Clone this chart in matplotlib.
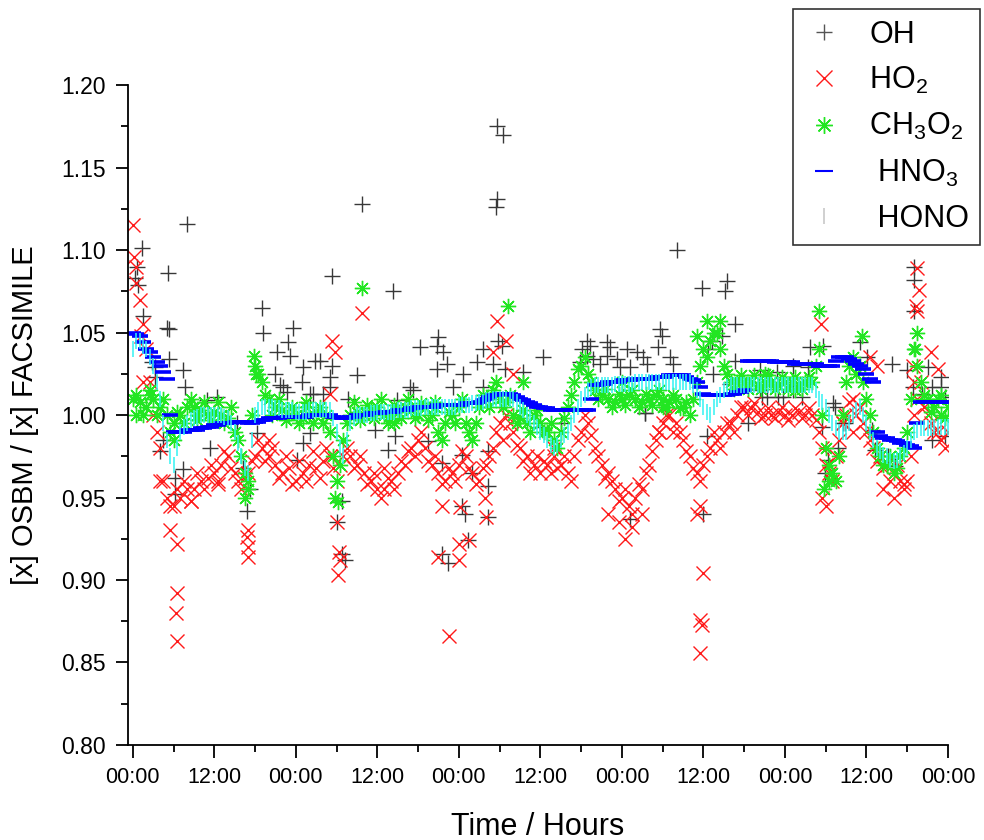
import numpy as np
import matplotlib
matplotlib.use("Agg")
import matplotlib.pyplot as plt
from matplotlib.lines import Line2D
from matplotlib.ticker import MultipleLocator, FixedLocator

# model time (hours from start): readings on the hour and on the half hour
hours = np.arange(0, 121)
half_hours = np.arange(0.5, 120, 1.0)

# HO2 ratio, on the hour
ho2 = [1.115, 1.07, 1.04, 1.00, 0.98, 0.95, 0.945, 0.95, 0.955, 0.955,
       0.96, 0.962, 0.965, 0.97, 0.975, 0.965, 0.955, 0.965, 0.975, 0.98,
       0.975, 0.97, 0.965, 0.968, 0.96, 0.965, 0.97, 0.968, 0.972, 0.975,
       0.96, 0.975, 0.975, 0.97, 0.965, 0.96, 0.955, 0.955, 0.96, 0.965,
       0.97, 0.98, 0.985, 0.98, 0.97, 0.965, 0.96, 0.965, 0.97, 0.975,
       0.965, 0.96, 0.97, 0.98, 0.995, 1.0, 0.99, 0.98, 0.975, 0.97,
       0.965, 0.97, 0.975, 0.97, 0.965, 0.975, 0.99, 0.995, 0.98, 0.97,
       0.965, 0.955, 0.95, 0.945, 0.95, 0.955, 0.97, 0.985, 0.995, 1.0,
       0.995, 0.985, 0.975, 0.965, 0.97, 0.98, 0.985, 0.99, 0.995, 1.0,
       1.005, 1.004, 1.002, 1.0, 1.0, 1.002, 1.0, 1.0, 1.002, 1.0,
       1.0, 0.99, 0.97, 0.96, 0.985, 1.0, 1.01, 1.005, 0.99, 0.98,
       0.975, 0.97, 0.965, 0.96, 0.96, 1.0, 1.02, 1.0, 0.99, 0.985,
       0.99]
# HO2 ratio, on the half hour
ho2_half = [1.09, 1.055, 1.02, 0.99, 0.96, 0.945, 0.955, 0.96, 0.948, 0.965,
            0.955, 0.97, 0.96, 0.978, 0.968, 0.96, 0.962, 0.972, 0.985, 0.972,
            0.98, 0.962, 0.975, 0.958, 0.972, 0.96, 0.978, 0.962, 0.98, 0.968,
            0.97, 0.98, 0.968, 0.975, 0.958, 0.965, 0.95, 0.962, 0.955, 0.972,
            0.978, 0.975, 0.99, 0.972, 0.975, 0.958, 0.968, 0.96, 0.978, 0.968,
            0.958, 0.968, 0.975, 0.99, 0.985, 0.995, 0.982, 0.972, 0.965, 0.975,
            0.972, 0.965, 0.968, 0.975, 0.96, 0.985, 1.0, 0.988, 0.975, 0.962,
            0.96, 0.948, 0.955, 0.94, 0.958, 0.965, 0.978, 0.99, 1.0, 0.99,
            0.99, 0.978, 0.968, 0.96, 0.975, 0.99, 0.98, 0.995, 0.99, 1.005,
            1.0, 1.007, 0.998, 1.004, 0.998, 1.005, 0.997, 1.004, 0.998, 1.004,
            0.997, 0.98, 0.965, 0.975, 0.995, 1.008, 1.0, 0.995, 0.985, 0.972,
            0.968, 0.96, 0.97, 0.955, 0.975, 1.01, 1.005, 0.995, 0.99, 0.98]
ho2_extra_t = [0.2, 0.5, 1.2, 1.5, 4.0, 5.5, 6.5, 6.5, 6.3, 6.5,
               16.8, 17.0, 17.0, 16.9, 29.3, 29.7, 29.0, 30.0, 30.4, 30.5,
               30.2, 33.7, 45.5, 48.1, 51.9, 52.0, 45.0, 48.0, 48.0, 49.5,
               46.6, 53.6, 55.0, 53.0, 56.0, 70.0, 71.5, 73.5, 75.0, 72.5,
               83.0, 83.5, 84.0, 83.5, 83.8, 83.5, 101.5, 102.0, 101.3, 115.5,
               115.8, 115.3, 115.5, 117.5, 118.5, 114.8, 115.0, 110.5, 112.0, 113.5,
               108.5, 109.5, 8.5, 12.5, 20.0, 37.0, 62.0, 77.5, 106.0, 104.5]
ho2_extra_v = [1.096, 1.08, 1.048, 1.02, 0.96, 0.93, 0.922, 0.892, 0.88, 0.863,
               0.926, 0.92, 0.914, 0.93, 1.045, 1.038, 1.013, 0.935, 0.917, 0.912,
               0.903, 1.062, 0.945, 0.944, 0.95, 0.938, 0.914, 0.912, 0.922, 0.924,
               0.866, 1.057, 1.045, 1.038, 1.025, 0.94, 0.935, 0.932, 0.94, 0.925,
               0.94, 0.945, 0.904, 0.876, 0.873, 0.856, 0.95, 0.945, 1.055, 1.089,
               1.076, 1.066, 1.063, 1.038, 1.028, 1.03, 1.02, 0.955, 0.95, 0.958,
               1.035, 1.03, 0.948, 0.958, 0.985, 0.968, 0.98, 0.99, 0.99, 0.995]

# CH3O2 ratio
ch3o2 = [1.01, 1.008, 1.005, 1.01, 1.005, 1.0, 0.995, 1.0, 1.005, 1.005,
         1.003, 1.0, 1.002, 1.0, 0.998, 0.99, 0.975, 0.96, 1.03, 1.02,
         1.01, 1.005, 1.003, 1.0, 1.0, 0.998, 1.0, 1.002, 0.995, 0.99,
         0.96, 0.985, 1.0, 1.002, 1.0, 1.003, 1.005, 1.0, 1.0, 1.002,
         1.005, 1.003, 1.0, 1.005, 1.0, 0.99, 0.995, 1.0, 1.005, 0.995,
         0.985, 1.005, 1.01, 1.015, 1.01, 1.008, 1.0, 0.998, 0.995, 1.0,
         0.995, 0.99, 0.985, 0.99, 1.005, 1.02, 1.03, 1.025, 1.015, 1.012,
         1.01, 1.008, 1.01, 1.012, 1.01, 1.008, 1.01, 1.012, 1.01, 1.008,
         1.01, 1.005, 1.0, 1.02, 1.04, 1.045, 1.05, 1.03, 1.02, 1.02,
         1.02, 1.02, 1.018, 1.02, 1.02, 1.018, 1.02, 1.02, 1.018, 1.02,
         1.02, 1.04, 0.98, 0.965, 0.975, 1.02, 1.035, 1.03, 1.01, 0.99,
         0.975, 0.97, 0.965, 0.975, 0.99, 1.04, 1.02, 1.01, 1.005, 1.0,
         1.005]
ch3o2_half = [1.012, 1.0, 1.012, 1.0, 1.01, 0.99, 1.002, 0.995, 1.01, 1.0,
              1.008, 0.997, 1.008, 0.995, 1.005, 0.985, 0.965, 1.0, 1.025, 1.012,
              1.0, 1.01, 0.997, 1.005, 0.995, 1.005, 0.995, 1.005, 1.0, 0.975,
              0.97, 0.995, 1.008, 0.997, 1.006, 0.998, 1.01, 0.995, 1.006, 0.998,
              1.01, 0.998, 1.007, 0.997, 1.005, 0.985, 1.002, 0.995, 1.01, 0.99,
              0.995, 1.012, 1.005, 1.02, 1.005, 1.012, 0.995, 1.003, 0.99, 1.003,
              0.99, 0.995, 0.98, 0.998, 1.012, 1.028, 1.035, 1.02, 1.01, 1.016,
              1.005, 1.013, 1.006, 1.015, 1.005, 1.013, 1.006, 1.015, 1.005, 1.012,
              1.004, 1.008, 1.01, 1.03, 1.035, 1.05, 1.04, 1.025, 1.016, 1.024,
              1.016, 1.024, 1.016, 1.024, 1.016, 1.023, 1.016, 1.023, 1.016, 1.023,
              1.03, 1.0, 0.97, 0.96, 1.0, 1.03, 1.025, 1.02, 1.0, 0.98,
              0.97, 0.975, 0.968, 0.98, 1.01, 1.03, 1.012, 1.002, 1.01, 0.998]
ch3o2_extra_t = [33.7, 55.3, 101.0, 107.3, 115.5, 115.2, 84.5, 86.5, 83.0, 17.8,
                 18.2, 29.8, 30.2, 16.5, 16.9, 101.8, 102.5, 6.0, 0.5, 2.5,
                 9.5, 25.5, 38.5, 44.5, 57.5, 72.0, 78.0, 93.0, 97.5, 119.0]
ch3o2_extra_v = [1.077, 1.066, 1.063, 1.048, 1.05, 1.04, 1.057, 1.057, 1.048, 1.036,
                 1.025, 0.95, 0.947, 0.95, 0.955, 0.955, 0.96, 0.985, 1.0, 1.015,
                 0.997, 1.008, 0.995, 1.008, 1.02, 1.02, 1.005, 1.025, 1.015, 1.012]

# HNO3 ratio
hno3 = [1.05, 1.048, 1.04, 1.035, 1.03, 1.022, 0.99, 0.99, 0.991, 0.991,
        0.992, 0.993, 0.994, 0.995, 0.995, 0.996, 0.996, 0.995, 0.996, 0.997,
        0.998, 0.998, 0.999, 0.999, 0.999, 0.999, 1.0, 1.0, 1.0, 1.0,
        0.999, 0.998, 0.999, 1.0, 1.0, 1.001, 1.001, 1.002, 1.002, 1.003,
        1.003, 1.004, 1.005, 1.005, 1.005, 1.006, 1.006, 1.006, 1.006, 1.007,
        1.007, 1.008, 1.01, 1.012, 1.013, 1.013, 1.012, 1.01, 1.008, 1.006,
        1.005, 1.004, 1.003, 1.003, 1.003, 1.003, 1.003, 1.003, 1.018, 1.019,
        1.02, 1.02, 1.021, 1.021, 1.022, 1.022, 1.022, 1.023, 1.023, 1.024,
        1.024, 1.024, 1.022, 1.02, 1.013, 1.012, 1.012, 1.012, 1.013, 1.014,
        1.015, 1.033, 1.033, 1.033, 1.033, 1.032, 1.032, 1.032, 1.031, 1.031,
        1.031, 1.03, 1.03, 1.03, 1.035, 1.035, 1.033, 1.03, 1.025, 1.02,
        0.987, 0.986, 0.985, 0.983, 0.982, 0.98, 1.008, 1.008, 1.008, 1.008,
        1.008]
hno3_half = [1.049, 1.044, 1.038, 1.032, 1.026, 1.0, 0.99, 0.99, 0.991, 0.991,
             0.992, 0.993, 0.994, 0.995, 0.995, 0.996, 0.996, 0.995, 0.996, 0.997,
             0.998, 0.998, 0.999, 0.999, 0.999, 0.999, 1.0, 1.0, 1.0, 0.999,
             0.998, 0.998, 0.999, 1.0, 1.0, 1.001, 1.001, 1.002, 1.002, 1.003,
             1.003, 1.004, 1.005, 1.005, 1.005, 1.006, 1.006, 1.006, 1.006, 1.007,
             1.007, 1.009, 1.011, 1.012, 1.013, 1.013, 1.011, 1.009, 1.007, 1.005,
             1.004, 1.003, 1.003, 1.003, 1.003, 1.003, 1.003, 1.01, 1.018, 1.019,
             1.02, 1.02, 1.021, 1.021, 1.022, 1.022, 1.022, 1.023, 1.023, 1.024,
             1.024, 1.023, 1.021, 1.017, 1.012, 1.012, 1.012, 1.012, 1.013, 1.014,
             1.033, 1.033, 1.033, 1.033, 1.032, 1.032, 1.032, 1.031, 1.031, 1.031,
             1.031, 1.03, 1.03, 1.033, 1.035, 1.034, 1.031, 1.028, 1.022, 0.99,
             0.986, 0.985, 0.984, 0.983, 0.981, 0.995, 1.008, 1.008, 1.008, 1.008]

# HONO ratio
hono = [1.04, 1.045, 1.04, 1.03, 1.01, 0.985, 0.97, 0.99, 0.995, 0.998,
        1.0, 1.0, 1.0, 1.0, 0.998, 0.99, 0.975, 0.965, 1.0, 1.005,
        1.005, 1.004, 1.003, 1.003, 1.002, 1.002, 1.003, 1.003, 1.003, 1.003,
        0.99, 0.975, 0.995, 1.0, 1.0, 1.001, 1.002, 1.002, 1.002, 1.003,
        1.003, 1.004, 1.004, 1.005, 1.005, 1.005, 1.005, 1.005, 1.006, 1.006,
        1.007, 1.008, 1.009, 1.01, 1.01, 1.01, 1.01, 1.005, 1.0, 0.995,
        0.99, 0.985, 0.98, 0.985, 0.99, 1.0, 1.01, 1.015, 1.018, 1.018,
        1.018, 1.019, 1.019, 1.019, 1.02, 1.02, 1.02, 1.02, 1.02, 1.02,
        1.02, 1.02, 1.02, 1.015, 1.005, 1.0, 1.01, 1.015, 1.018, 1.018,
        1.018, 1.018, 1.018, 1.018, 1.018, 1.018, 1.018, 1.018, 1.018, 1.018,
        1.018, 1.01, 1.005, 0.995, 0.99, 0.99, 1.0, 1.005, 0.995, 0.985,
        0.978, 0.975, 0.972, 0.975, 0.98, 0.99, 0.992, 0.992, 0.993, 0.993,
        0.993]
hono_half = [1.045, 1.042, 1.035, 1.02, 0.995, 0.975, 0.98, 0.993, 0.997, 0.999,
             1.0, 1.0, 1.0, 0.999, 0.995, 0.983, 0.968, 0.985, 1.003, 1.005,
             1.005, 1.004, 1.003, 1.003, 1.002, 1.002, 1.003, 1.003, 1.003, 0.998,
             0.98, 0.985, 0.998, 1.0, 1.0, 1.001, 1.002, 1.002, 1.002, 1.003,
             1.003, 1.004, 1.004, 1.005, 1.005, 1.005, 1.005, 1.005, 1.006, 1.006,
             1.007, 1.008, 1.009, 1.01, 1.01, 1.01, 1.008, 1.003, 0.998, 0.993,
             0.988, 0.982, 0.982, 0.988, 0.995, 1.005, 1.012, 1.017, 1.018, 1.018,
             1.018, 1.019, 1.019, 1.019, 1.02, 1.02, 1.02, 1.02, 1.02, 1.02,
             1.02, 1.02, 1.018, 1.01, 1.002, 1.005, 1.012, 1.017, 1.018, 1.018,
             1.018, 1.018, 1.018, 1.018, 1.018, 1.018, 1.018, 1.018, 1.018, 1.018,
             1.015, 1.008, 1.0, 0.992, 0.99, 0.995, 1.003, 1.0, 0.99, 0.98,
             0.976, 0.973, 0.973, 0.977, 0.985, 0.991, 0.992, 0.992, 0.993, 0.993]

# OH ratio, scattered points (hour, value)
oh_t = [0.3, 0.7, 1.3, 0.6, 1.5, 2.8, 3.2, 3.2, 5.2, 5.0,
        5.4, 5.4, 7.4, 8.0, 7.7, 4.4, 4.0, 11.3, 6.2, 6.2,
        7.4, 16.8, 16.2, 17.2, 15.3, 18.3, 10.9, 12.4, 19.0, 19.1,
        23.6, 22.8, 21.2, 23.1, 26.8, 25.0, 20.9, 22.1, 26.1, 28.0,
        22.7, 21.6, 24.9, 26.5, 26.1, 25.0, 24.2, 29.3, 38.3, 33.7,
        27.5, 29.3, 29.0, 33.0, 29.0, 31.7, 42.3, 44.9, 44.8, 45.7,
        46.2, 44.8, 48.6, 50.7, 51.5, 53.8, 53.0, 54.8, 54.3, 47.1,
        51.5, 41.2, 38.9, 40.8, 35.6, 38.6, 43.4, 37.6, 45.5, 48.5,
        52.3, 49.9, 52.3, 48.5, 48.9, 52.3, 46.4, 45.5, 49.3, 30.8,
        30.8, 30.0, 31.2, 53.6, 54.5, 53.6, 53.5, 60.4, 57.4, 66.9,
        66.1, 67.3, 69.8, 70.3, 72.8, 66.9, 65.8, 67.7, 69.8, 71.3,
        74.2, 75.1, 75.7, 77.6, 77.9, 77.3, 79.1, 79.5, 68.8, 71.7,
        73.2, 80.1, 83.8, 75.4, 87.5, 87.2, 88.7, 85.3, 86.7, 84.7,
        85.4, 88.7, 87.9, 92.3, 94.8, 97.2, 99.4, 97.2, 93.4, 95.7,
        92.3, 99.7, 101.6, 103.1, 104.6, 107.1, 108.1, 111.8, 115.0, 115.0,
        115.0, 117.1, 118.9, 118.9, 119.6, 114.0, 103.4, 101.5, 104.9, 103.8,
        102.4, 101.9, 108.8, 109.3, 111.2, 112.2, 114.8, 116.2, 117.7, 119.6,
        117.7, 98.5, 95.0, 92.6, 90.6, 73.2, 83.9, 75.4, 84.5, 63.0,
        60.0]
oh_v = [1.083, 1.079, 1.101, 1.09, 1.06, 1.032, 1.029, 1.023, 1.086, 1.053,
        1.052, 1.034, 1.027, 1.116, 1.017, 0.985, 0.978, 0.98, 0.962, 0.952,
        0.967, 0.942, 0.968, 0.955, 0.995, 0.989, 1.009, 1.011, 1.065, 1.05,
        1.053, 1.044, 1.038, 1.036, 1.033, 1.029, 1.025, 1.017, 1.013, 1.013,
        1.014, 1.018, 1.02, 1.013, 0.989, 0.983, 0.973, 1.084, 1.075, 1.128,
        1.033, 1.03, 1.023, 1.024, 1.017, 1.01, 1.041, 1.047, 1.042, 1.038,
        1.031, 1.028, 1.025, 1.032, 1.04, 1.045, 1.031, 1.028, 1.042, 1.017,
        1.017, 1.015, 1.009, 1.017, 0.991, 0.987, 0.984, 0.979, 0.971, 0.976,
        0.978, 0.965, 0.957, 0.945, 0.94, 0.938, 0.91, 0.916, 0.924, 0.948,
        0.916, 0.935, 0.912, 1.175, 1.17, 1.131, 1.126, 1.035, 1.026, 1.045,
        1.04, 1.042, 1.044, 1.041, 1.04, 1.036, 1.032, 1.034, 1.036, 1.034,
        1.038, 1.035, 1.031, 1.052, 1.048, 1.041, 1.035, 1.031, 1.031, 1.029,
        1.029, 1.1, 1.077, 1.001, 1.081, 1.075, 1.055, 1.045, 1.048, 1.04,
        1.025, 1.033, 1.019, 1.027, 1.026, 1.03, 1.029, 1.015, 1.011, 1.011,
        1.015, 1.041, 1.042, 1.007, 0.995, 1.044, 1.035, 1.031, 1.082, 1.063,
        1.09, 1.029, 1.023, 1.017, 1.011, 1.027, 1.005, 0.993, 0.995, 0.98,
        0.973, 0.965, 0.991, 0.979, 0.975, 0.969, 1.017, 1.013, 1.017, 0.987,
        0.985, 1.011, 1.011, 1.011, 0.995, 0.937, 0.94, 1.001, 0.987, 0.995,
        0.993]

xtick_labels = ["00:00", "12:00"] * 5 + ["00:00"]

plt.rcParams["font.family"] = ["Liberation Sans", "DejaVu Sans"]
plt.rcParams["mathtext.fontset"] = "custom"
plt.rcParams["mathtext.rm"] = "Liberation Sans"

fig = plt.figure(figsize=(9.84, 8.4), dpi=100)
ax = fig.add_axes([0.1301, 0.1131, 0.8333, 0.7857])

oh_style = dict(ls="none", marker="+", ms=11, mew=1.0, color="#383838")
ho2_style = dict(ls="none", marker="x", ms=10, mew=1.0, color="#ff1a1a")
ch3o2_style = dict(ls="none", marker=(8, 2, 0), ms=11, mew=1.0, color="#22e622")
hno3_style = dict(ls="none", marker="_", ms=12, mew=2.6, color="#0000ff")
hono_style = dict(ls="none", marker="|", ms=12, mew=1.1, color="#33f2f2")

ax.plot(oh_t, oh_v, **oh_style)
ax.plot(hours, ho2, **ho2_style)
ax.plot(half_hours, ho2_half, **ho2_style)
ax.plot(ho2_extra_t, ho2_extra_v, **ho2_style)
ax.plot(hours, ch3o2, **ch3o2_style)
ax.plot(half_hours, ch3o2_half, **ch3o2_style)
ax.plot(ch3o2_extra_t, ch3o2_extra_v, **ch3o2_style)
ax.plot(hours, hno3, **hno3_style)
ax.plot(half_hours, hno3_half, **hno3_style)
ax.plot(hours, hono, **hono_style)
ax.plot(half_hours, hono_half, **hono_style)

ax.set_xlim(-0.7, 120)
ax.xaxis.set_major_locator(FixedLocator(np.arange(0, 121, 12)))
ax.xaxis.set_minor_locator(MultipleLocator(6))
ax.set_xticklabels(xtick_labels, fontsize=15.5)
yticks = np.arange(0.80, 1.2001, 0.05)
ax.set_yticks(yticks)
ax.set_yticklabels([f"{v:.2f}" for v in yticks], fontsize=16.5)
ax.yaxis.set_minor_locator(MultipleLocator(0.025))
ax.set_ylim(0.80, 1.20)

for s in ["top", "right"]:
    ax.spines[s].set_visible(False)
for s in ["left", "bottom"]:
    ax.spines[s].set_linewidth(1.3)
ax.tick_params(which="major", direction="out", length=9, width=1.3, pad=7)
ax.tick_params(which="minor", direction="out", length=5, width=1.3)

ax.set_xlabel("Time / Hours", fontsize=22, labelpad=17)
ax.set_ylabel("[x] OSBM / [x] FACSIMILE", fontsize=21, labelpad=16)

handles = [
    Line2D([], [], ls="none", marker="+", ms=12, mew=1.0, color="#555555"),
    Line2D([], [], ls="none", marker="x", ms=11, mew=1.0, color="#ff1a1a"),
    Line2D([], [], ls="none", marker=(8, 2, 0), ms=12, mew=1.0, color="#22e622"),
    Line2D([], [], ls="none", marker="_", ms=13, mew=1.5, color="#0000ff"),
    Line2D([], [], ls="none", marker="|", ms=11, mew=1.2, color="#c8c8c8"),
]
labels = ["OH", "HO$_2$", "CH$_3$O$_2$", " HNO$_3$", " HONO"]
leg = fig.legend(handles, labels, loc="upper left", bbox_to_anchor=(793 / 984, 1 - 9 / 840),
                 fontsize=22, frameon=True, fancybox=False, borderpad=0.35,
                 labelspacing=0.5, handlelength=1.3, handletextpad=0.85,
                 borderaxespad=0)
leg.get_frame().set_edgecolor("black")
leg.get_frame().set_linewidth(1.2)

fig.savefig("out.png", dpi=100)
